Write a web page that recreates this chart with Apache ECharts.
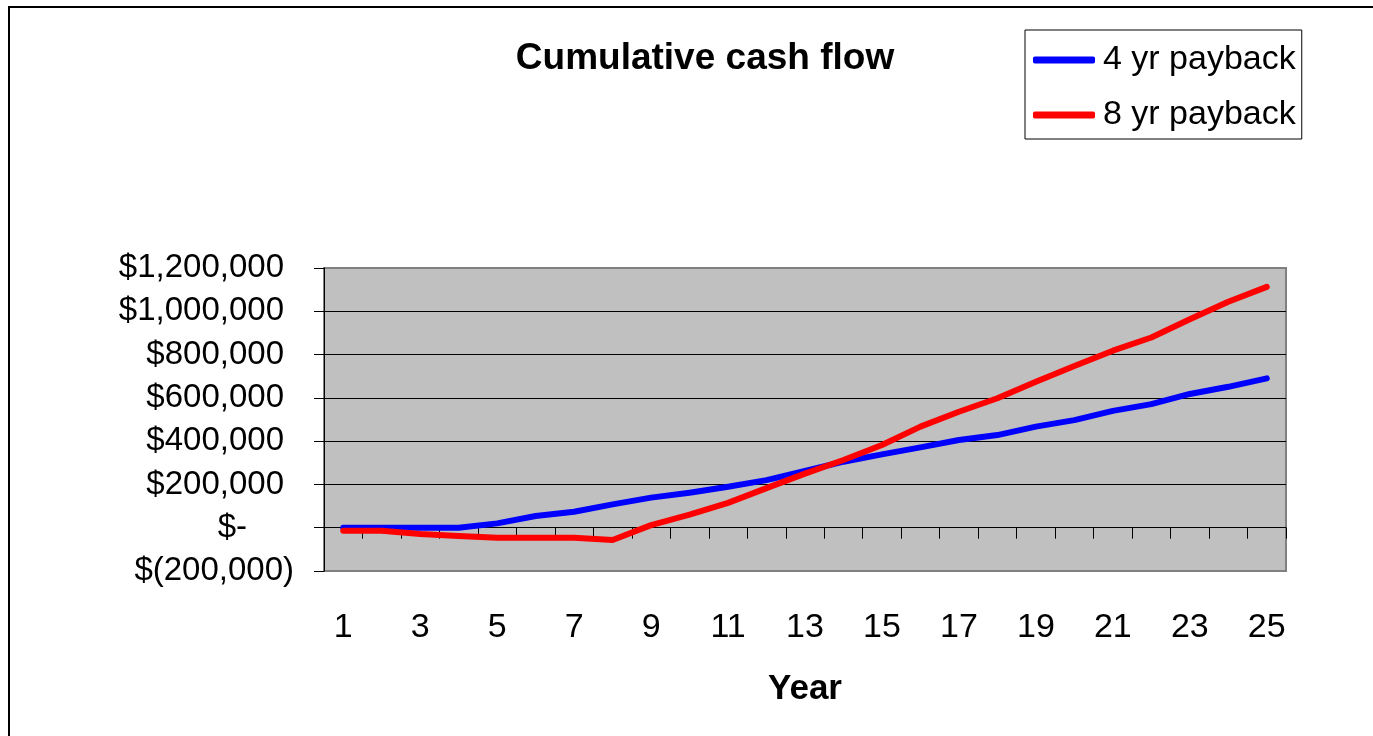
<!DOCTYPE html>
<html>
<head>
<meta charset="utf-8">
<script src="https://cdn.jsdelivr.net/npm/echarts@6/dist/echarts.min.js"></script>
<style>
html,body{margin:0;padding:0;background:#fff;}
#c{width:1373px;height:736px;}
</style>
</head>
<body>
<div id="c"></div>
<script>
var years = ['1','2','3','4','5','6','7','8','9','10','11','12','13','14','15','16','17','18','19','20','21','22','23','24','25'];
var payback4 = [0, 0, 0, 0, 20000, 54000, 74000, 108000, 139000, 162000, 189000, 220000, 262000, 305000, 339000, 371000, 405000, 428000, 467000, 497000, 540000, 571000, 618000, 651000, 690000];
var payback8 = [-14000, -14000, -29000, -38000, -46000, -46000, -46000, -57000, 12000, 60000, 115000, 183000, 250000, 313000, 382000, 467000, 536000, 598000, 674000, 747000, 818000, 879000, 963000, 1044000, 1113000];
var seriesNames = ['4 yr payback', '8 yr payback'];
var titleText = 'Cumulative cash flow';
var xName = 'Year';

var FONT = 'Arial, "Liberation Sans", sans-serif';
function fmt(n){ return n.toString().replace(/\B(?=(\d{3})+(?!\d))/g, ','); }

var chart = echarts.init(document.getElementById('c'), null, {renderer:'canvas'});
chart.setOption({
  animation: false,
  backgroundColor: '#fff',
  graphic: [{
    type: 'rect', z: -10,
    shape: {x: 9, y: 7, width: 3000, height: 3000},
    style: {fill: 'none', stroke: '#000', lineWidth: 2}
  }],
  title: {
    text: titleText,
    left: 700, top: 35, textAlign: 'center',
    textStyle: {fontFamily: FONT, fontSize: 37, fontWeight: 'bold', color: '#000'}
  },
  legend: {
    orient: 'vertical',
    left: 1025, top: 30,
    backgroundColor: '#fff',
    borderColor: '#000', borderWidth: 1,
    padding: [12, 6, 6, 8],
    itemGap: 19,
    itemWidth: 62, itemHeight: 7,
    icon: 'roundRect',
    textStyle: {fontFamily: FONT, fontSize: 34, color: '#000', lineHeight: 36, padding: [0, 0, 0, 3]},
    data: seriesNames
  },
  grid: {
    left: 324, top: 268, width: 962, height: 303,
    show: true, backgroundColor: '#c0c0c0', borderColor: '#808080', borderWidth: 2,
    containLabel: false
  },
  xAxis: [{
    type: 'category', data: years, boundaryGap: true,
    axisLine: {onZero: true, lineStyle: {color: '#000', width: 1}},
    axisTick: {show: true, interval: 0, length: 11, inside: false, lineStyle: {color: '#000'}},
    axisLabel: {show: false},
    splitLine: {show: false}
  }, {
    type: 'category', data: years, boundaryGap: true, position: 'bottom',
    axisLine: {show: false, onZero: false},
    axisTick: {show: false},
    axisLabel: {interval: 1, margin: 40, fontFamily: FONT, fontSize: 34, color: '#000'},
    name: xName, nameLocation: 'middle', nameGap: 101,
    nameTextStyle: {fontFamily: FONT, fontSize: 35, fontWeight: 'bold', color: '#000'}
  }],
  yAxis: {
    type: 'value', min: -200000, max: 1200000, interval: 200000,
    axisLine: {show: true, lineStyle: {color: '#000', width: 1}},
    axisTick: {show: true, length: 10, lineStyle: {color: '#000'}},
    splitLine: {show: true, showMinLine: false, showMaxLine: false, lineStyle: {color: '#000', width: 1}},
    axisLabel: {
      margin: 30, fontFamily: FONT, fontSize: 33, color: '#000',
      formatter: function(v){
        if (v < 0) return '{n|$(' + fmt(-v) + ')}';
        if (v === 0) return '{z|$-}';
        return '{p|$' + fmt(v) + '}';
      },
      rich: {
        n: {fontFamily: FONT, fontSize: 33, color: '#000'},
        p: {fontFamily: FONT, fontSize: 33, color: '#000', padding: [0, 10, 0, 0]},
        z: {fontFamily: FONT, fontSize: 33, color: '#000', padding: [0, 47, 0, 0]}
      }
    }
  },
  series: [{
    name: seriesNames[0], type: 'line', data: payback4, xAxisIndex: 0,
    showSymbol: false, symbol: 'none', smooth: false,
    lineStyle: {color: '#0000ff', width: 6, cap: 'round', join: 'round'},
    itemStyle: {color: '#0000ff'}
  }, {
    name: seriesNames[1], type: 'line', data: payback8, xAxisIndex: 0,
    showSymbol: false, symbol: 'none', smooth: false,
    lineStyle: {color: '#ff0000', width: 6, cap: 'round', join: 'round'},
    itemStyle: {color: '#ff0000'}
  }]
});
</script>
</body>
</html>
